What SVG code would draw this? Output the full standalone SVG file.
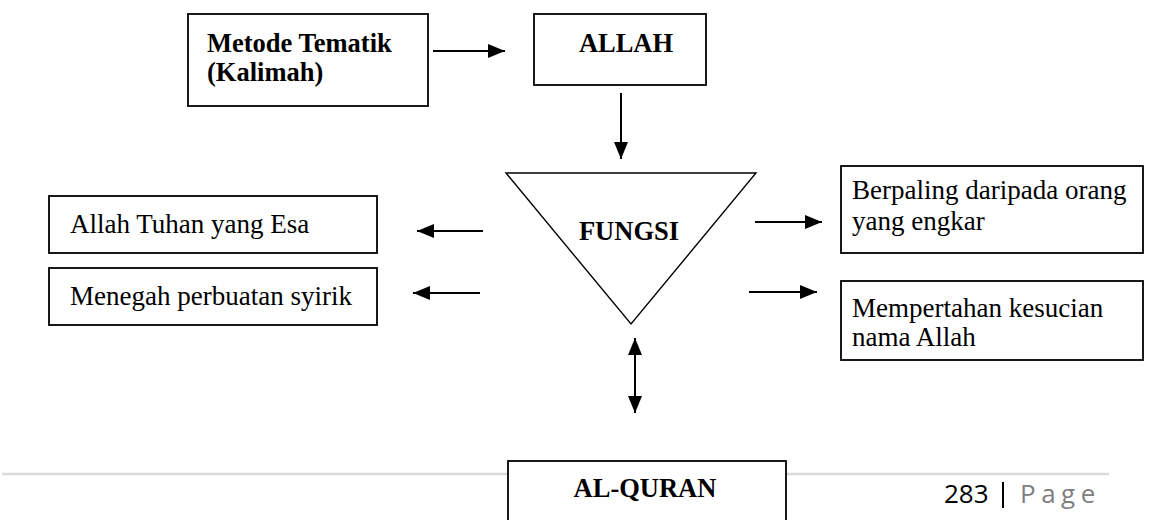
<svg xmlns="http://www.w3.org/2000/svg" width="1172" height="520" viewBox="0 0 1172 520">
<style>
.box{fill:#fff;stroke:#000;stroke-width:1.8}
.tri{fill:#fff;stroke:#000;stroke-width:1.4}
.b{font-family:"Liberation Serif","Times New Roman",serif;font-weight:bold;font-size:26.5px;fill:#000}
.r{font-family:"Liberation Serif","Times New Roman",serif;font-size:27px;fill:#000}
.conn line{stroke:#000;stroke-width:2}
.pg{font-family:"Open Sans","Noto Sans",sans-serif;font-size:26px}
</style>
<defs>
<marker id="ah" markerUnits="userSpaceOnUse" markerWidth="18" markerHeight="15" refX="17" refY="7" orient="auto-start-reverse">
<path d="M0,0 L17,7 L0,14 z" fill="#000"/>
</marker>
</defs>
<rect width="1172" height="520" fill="#fff"/>
<g id="footer">
<line x1="2" y1="474" x2="1109" y2="474" stroke="#d9d9d9" stroke-width="2.5"/>
<text class="pg" x="944" y="503" fill="#000">283</text>
<line x1="1003" y1="482" x2="1003" y2="508" stroke="#000" stroke-width="2"/>
<text class="pg" x="1020" y="503" fill="#7f7f7f" letter-spacing="5.5">Page</text>
</g>
<g id="metode">
<rect class="box" x="188" y="14" width="240" height="92"/>
<text class="b" x="207" y="52">Metode Tematik</text>
<text class="b" x="207" y="81">(Kalimah)</text>
</g>
<g id="allah">
<rect class="box" x="534" y="14" width="172" height="71"/>
<text class="b" x="626" y="52" text-anchor="middle">ALLAH</text>
</g>
<g id="fungsi">
<polygon class="tri" points="506,173 756,173 631,324"/>
<text class="b" x="629" y="240" text-anchor="middle">FUNGSI</text>
</g>
<g id="esa">
<rect class="box" x="49" y="196" width="328" height="57"/>
<text class="r" x="70" y="233">Allah Tuhan yang Esa</text>
</g>
<g id="syirik">
<rect class="box" x="49" y="268" width="328" height="57"/>
<text class="r" x="70" y="305">Menegah perbuatan syirik</text>
</g>
<g id="berpaling">
<rect class="box" x="841" y="166" width="302" height="87"/>
<text class="r" x="852" y="199">Berpaling daripada orang</text>
<text class="r" x="852" y="230">yang engkar</text>
</g>
<g id="mempertahan">
<rect class="box" x="841" y="281" width="302" height="79"/>
<text class="r" x="852" y="317">Mempertahan kesucian</text>
<text class="r" x="852" y="346">nama Allah</text>
</g>
<g id="alquran">
<rect class="box" x="508" y="461" width="278" height="70"/>
<text class="b" x="645" y="497" text-anchor="middle">AL-QURAN</text>
</g>
<g id="connectors" class="conn">
<line x1="433" y1="51" x2="505" y2="51" marker-end="url(#ah)"/>
<line x1="621" y1="93" x2="621" y2="159" marker-end="url(#ah)"/>
<line x1="483" y1="231" x2="417" y2="231" marker-end="url(#ah)"/>
<line x1="480" y1="293" x2="413" y2="293" marker-end="url(#ah)"/>
<line x1="755" y1="222" x2="822" y2="222" marker-end="url(#ah)"/>
<line x1="749" y1="292" x2="817" y2="292" marker-end="url(#ah)"/>
<line x1="635" y1="338" x2="635" y2="413" marker-start="url(#ah)" marker-end="url(#ah)"/>
</g>
</svg>
